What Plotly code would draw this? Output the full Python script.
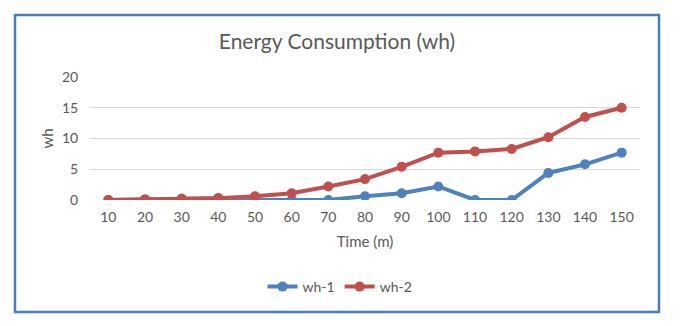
import plotly.graph_objects as go

time_labels = ["10", "20", "30", "40", "50", "60", "70", "80", "90", "100", "110", "120", "130", "140", "150"]
wh_1 = [0, 0.1, 0.2, 0.3, 0, 0, 0, 0.6, 1.1, 2.2, 0, 0, 4.4, 5.8, 7.7]
wh_2 = [0, 0.1, 0.2, 0.3, 0.6, 1.1, 2.2, 3.4, 5.4, 7.7, 7.9, 8.3, 10.2, 13.5, 15.0]

FONT = "Lato"
GREY = "#595959"
# page body has an 8px default margin; the figure is shifted to compensate
W, H, OFF = 673, 318, 8

fig = go.Figure()
fig.add_trace(go.Scatter(x=time_labels, y=wh_1, name="wh-1", mode="lines+markers",
                         line=dict(color="#4f81bd", width=4),
                         marker=dict(size=10, color="#4f81bd")))
fig.add_trace(go.Scatter(x=time_labels, y=wh_2, name="wh-2", mode="lines+markers",
                         line=dict(color="#c0504d", width=4),
                         marker=dict(size=10, color="#c0504d")))

fig.update_layout(
    template="none",
    width=W, height=H,
    margin=dict(l=90 - OFF, r=W - (640 - OFF), t=77 - OFF, b=H - (200 - OFF), autoexpand=False),
    paper_bgcolor="white", plot_bgcolor="white",
    font=dict(family=FONT, size=14, color=GREY),
    title=dict(text="Energy Consumption (wh)", x=(337 - OFF) / W, xanchor="center",
               y=1 - (42 - OFF) / H, yanchor="middle", xref="container", yref="container",
               font=dict(family=FONT, size=21, color=GREY)),
    xaxis=dict(type="category", range=[-0.5, len(time_labels) - 0.5],
               showgrid=False, zeroline=False, showline=False,
               automargin=False,
               ticks="outside", ticklen=4, tickcolor="rgba(0,0,0,0)",
               title=dict(text="Time (m)", standoff=12, font=dict(size=15, color=GREY)),
               tickfont=dict(size=14, color=GREY)),
    yaxis=dict(range=[0, 20], dtick=5, showgrid=True, gridcolor="#d9d9d9", gridwidth=1,
               zeroline=False, showline=False, ticks="outside", ticklen=8,
               automargin=False,
               tickcolor="rgba(0,0,0,0)",
               title=dict(text="wh", standoff=4, font=dict(size=15, color=GREY)),
               tickfont=dict(size=14, color=GREY)),
    legend=dict(orientation="h", x=(340 - OFF) / W, xanchor="center", y=1 - (287 - OFF) / H,
                yanchor="middle", xref="container", yref="container",
                font=dict(size=14, color=GREY), bgcolor="rgba(0,0,0,0)"),
    showlegend=True,
)

fig.add_shape(type="rect", xref="paper", yref="paper",
              x0=(15 - 90) / 550, x1=(659 - 90) / 550,
              y0=(200 - 312) / 123, y1=(200 - 15) / 123,
              line=dict(color="#4a7ebb", width=2.5), layer="below")

fig.write_html("out.html")
